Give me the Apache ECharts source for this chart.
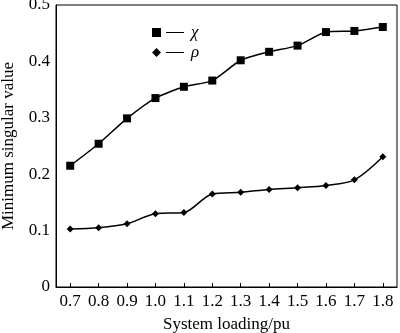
<!DOCTYPE html>
<html>
<head>
<meta charset="utf-8">
<script src="https://cdn.jsdelivr.net/npm/echarts@6/dist/echarts.min.js"></script>
<style>
  html, body { margin: 0; padding: 0; background: #fff; }
</style>
</head>
<body>
<div id="chart" style="width: 400px;height:333px;"></div>
<script>
var loading = ['0.7', '0.8', '0.9', '1.0', '1.1', '1.2', '1.3', '1.4', '1.5', '1.6', '1.7', '1.8']
var chiValues = [0.215, 0.254, 0.299, 0.335, 0.355, 0.366, 0.402, 0.417, 0.428, 0.452, 0.454, 0.461]
var rhoValues = [0.103, 0.105, 0.112, 0.130, 0.132, 0.165, 0.168, 0.173, 0.176, 0.180, 0.190, 0.231]

var font = 'Liberation Serif'

var option = {
  animation: false,
  grid: {
    left: 56,
    right: 3,
    top: 5,
    bottom: 46,
    outerBoundsMode: 'none',
    show: true,
    borderColor: '#000',
    borderWidth: 1
  },
  legend: {
    orient: 'vertical',
    left: 147,
    top: 19,
    itemWidth: 9,
    itemHeight: 9,
    itemGap: 3,
    data: [
      { name: 'χ', icon: 'rect' },
      { name: 'ρ', icon: 'diamond' }
    ],
    formatter: function (name) {
      return '{l| }{s| }{i|' + name + '}'
    },
    textStyle: {
      color: '#000',
      fontFamily: font,
      rich: {
        l: { width: 18, height: 1, backgroundColor: '#000', fontSize: 1 },
        s: { width: 7, fontSize: 10 },
        i: { fontSize: 17, fontStyle: 'italic', color: '#000', fontFamily: font }
      }
    }
  },
  xAxis: {
    type: 'category',
    data: loading,
    boundaryGap: true,
    name: 'System loading/pu',
    nameLocation: 'middle',
    nameGap: 29,
    nameTextStyle: { color: '#000', fontFamily: font, fontSize: 17 },
    axisLine: { lineStyle: { color: '#000', width: 1 } },
    axisTick: { show: true, inside: true, alignWithLabel: true, length: 4, lineStyle: { color: '#000' } },
    axisLabel: { color: '#000', fontFamily: font, fontSize: 17, margin: 6, interval: 0 },
    splitLine: { show: false }
  },
  yAxis: {
    type: 'value',
    min: 0,
    max: 0.5,
    interval: 0.1,
    name: 'Minimum singular value',
    nameLocation: 'middle',
    nameGap: 39,
    nameTextStyle: { color: '#000', fontFamily: font, fontSize: 17 },
    axisLine: { show: true, lineStyle: { color: '#000', width: 1 } },
    axisTick: { show: false },
    axisLabel: { color: '#000', fontFamily: font, fontSize: 17, margin: 6 },
    splitLine: { show: false }
  },
  series: [
    {
      name: 'χ',
      type: 'line',
      data: chiValues,
      symbol: 'rect',
      symbolSize: 8,
      smooth: 0.2,
      itemStyle: { color: '#000' },
      lineStyle: { color: '#000', width: 1.5 }
    },
    {
      name: 'ρ',
      type: 'line',
      data: rhoValues,
      symbol: 'diamond',
      symbolSize: 7,
      smooth: 0.3,
      itemStyle: { color: '#000' },
      lineStyle: { color: '#000', width: 1.5 }
    }
  ]
}

var myChart = echarts.init(document.getElementById('chart'))
myChart.setOption(option)
</script>
</body>
</html>
